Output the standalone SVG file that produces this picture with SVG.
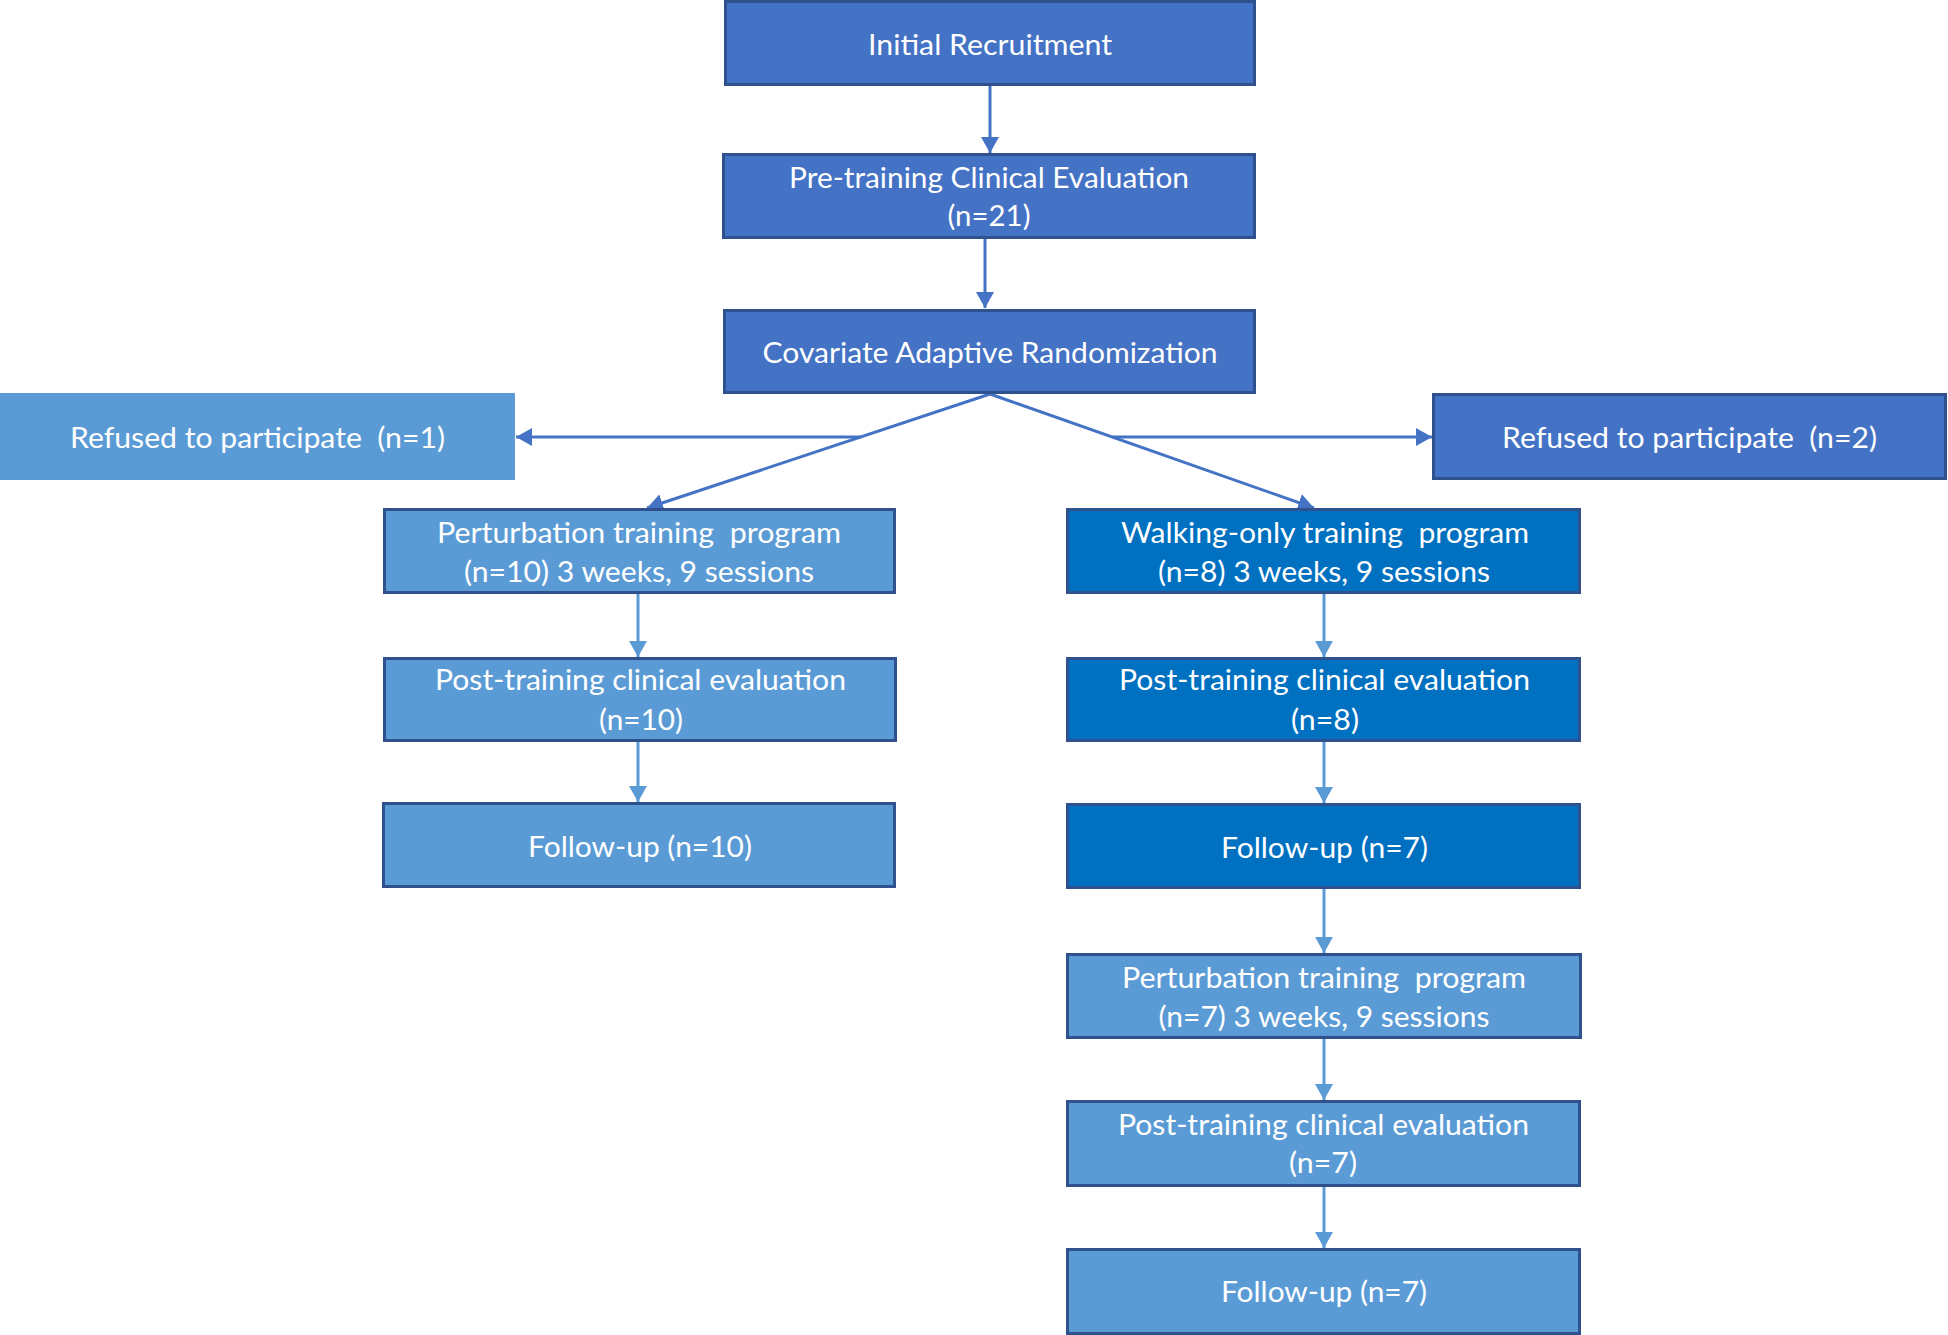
<svg xmlns="http://www.w3.org/2000/svg" width="1948" height="1335" viewBox="0 0 1948 1335">
<style>
.dark{fill:#4472C4;stroke:#2F528F;stroke-width:3}
.light{fill:#5B9BD5;stroke:#2F528F;stroke-width:3}
.deep{fill:#0070C0;stroke:#2F528F;stroke-width:3}
.plain{fill:#5B9BD5}
text{font-family:Lato,"Open Sans","Liberation Sans",sans-serif;font-size:29px;fill:#FFFFFF;text-anchor:middle;white-space:pre}
.c1{stroke:#4472C4;stroke-width:3;fill:none;marker-end:url(#a1)}
.c2{stroke:#5B9BD5;stroke-width:3;fill:none;marker-end:url(#a2)}
</style>
<defs>
<marker id="a1" markerUnits="userSpaceOnUse" markerWidth="16" markerHeight="18" refX="16" refY="9" orient="auto"><path d="M0,0 L16,9 L0,18 z" fill="#4472C4"/></marker>
<marker id="a2" markerUnits="userSpaceOnUse" markerWidth="16" markerHeight="18" refX="16" refY="9" orient="auto"><path d="M0,0 L16,9 L0,18 z" fill="#5B9BD5"/></marker>
</defs>
<rect width="1948" height="1335" fill="#FFFFFF"/>
<g id="connectors">
<line class="c1" x1="990" y1="86" x2="990" y2="153"/>
<line class="c1" x1="985" y1="239" x2="985" y2="308"/>
<line class="c1" x1="990" y1="394" x2="647" y2="508"/>
<line class="c1" x1="990" y1="394" x2="1314" y2="508"/>
<line class="c1" x1="861" y1="437" x2="516" y2="437"/>
<line class="c1" x1="1112" y1="437" x2="1432" y2="437"/>
<line class="c2" x1="638" y1="594" x2="638" y2="657"/>
<line class="c2" x1="638" y1="742" x2="638" y2="802"/>
<line class="c2" x1="1324" y1="594" x2="1324" y2="657"/>
<line class="c2" x1="1324" y1="742" x2="1324" y2="803"/>
<line class="c2" x1="1324" y1="889" x2="1324" y2="953"/>
<line class="c2" x1="1324" y1="1039" x2="1324" y2="1100"/>
<line class="c2" x1="1324" y1="1187" x2="1324" y2="1248"/>
</g>
<g id="initial-recruitment">
<rect class="dark" x="725.5" y="1.5" width="529" height="83"/>
<text x="990" y="55" textLength="244" lengthAdjust="spacingAndGlyphs">Initial Recruitment</text>
</g>
<g id="pre-training">
<rect class="dark" x="723.5" y="154.5" width="531" height="83"/>
<text x="989" y="188" textLength="400" lengthAdjust="spacingAndGlyphs">Pre-training Clinical Evaluation</text>
<text x="989" y="226" textLength="83" lengthAdjust="spacingAndGlyphs">(n=21)</text>
</g>
<g id="randomization">
<rect class="dark" x="724.5" y="310.5" width="530" height="82"/>
<text x="990" y="363" textLength="455" lengthAdjust="spacingAndGlyphs">Covariate Adaptive Randomization</text>
</g>
<g id="refused-left">
<rect class="plain" x="0" y="393" width="515" height="87"/>
<text x="257.5" y="448" textLength="375" lengthAdjust="spacingAndGlyphs">Refused to participate  (n=1)</text>
</g>
<g id="refused-right">
<rect class="dark" x="1433.5" y="394.5" width="512" height="84"/>
<text x="1689.5" y="448" textLength="375" lengthAdjust="spacingAndGlyphs">Refused to participate  (n=2)</text>
</g>
<g id="perturbation-left">
<rect class="light" x="384.5" y="509.5" width="510" height="83"/>
<text x="639" y="543" textLength="404" lengthAdjust="spacingAndGlyphs">Perturbation training  program</text>
<text x="639" y="582" textLength="350" lengthAdjust="spacingAndGlyphs">(n=10) 3 weeks, 9 sessions</text>
</g>
<g id="walking-only">
<rect class="deep" x="1067.5" y="509.5" width="512" height="83"/>
<text x="1325" y="543" textLength="408" lengthAdjust="spacingAndGlyphs">Walking-only training  program</text>
<text x="1324" y="582" textLength="332" lengthAdjust="spacingAndGlyphs">(n=8) 3 weeks, 9 sessions</text>
</g>
<g id="post-left">
<rect class="light" x="384.5" y="658.5" width="511" height="82"/>
<text x="640.5" y="690" textLength="411" lengthAdjust="spacingAndGlyphs">Post-training clinical evaluation</text>
<text x="641" y="730" textLength="84" lengthAdjust="spacingAndGlyphs">(n=10)</text>
</g>
<g id="post-right">
<rect class="deep" x="1067.5" y="658.5" width="512" height="82"/>
<text x="1324.5" y="690" textLength="411" lengthAdjust="spacingAndGlyphs">Post-training clinical evaluation</text>
<text x="1325" y="730" textLength="68" lengthAdjust="spacingAndGlyphs">(n=8)</text>
</g>
<g id="followup-left">
<rect class="light" x="383.5" y="803.5" width="511" height="83"/>
<text x="640" y="857" textLength="224" lengthAdjust="spacingAndGlyphs">Follow-up (n=10)</text>
</g>
<g id="followup-right">
<rect class="deep" x="1067.5" y="804.5" width="512" height="83"/>
<text x="1324.5" y="858" textLength="207" lengthAdjust="spacingAndGlyphs">Follow-up (n=7)</text>
</g>
<g id="perturbation-right">
<rect class="light" x="1067.5" y="954.5" width="513" height="83"/>
<text x="1324" y="988" textLength="404" lengthAdjust="spacingAndGlyphs">Perturbation training  program</text>
<text x="1324" y="1027" textLength="331" lengthAdjust="spacingAndGlyphs">(n=7) 3 weeks, 9 sessions</text>
</g>
<g id="post-right-2">
<rect class="light" x="1067.5" y="1101.5" width="512" height="84"/>
<text x="1323.5" y="1135" textLength="411" lengthAdjust="spacingAndGlyphs">Post-training clinical evaluation</text>
<text x="1323" y="1173" textLength="68" lengthAdjust="spacingAndGlyphs">(n=7)</text>
</g>
<g id="followup-right-2">
<rect class="light" x="1067.5" y="1249.5" width="512" height="84"/>
<text x="1324" y="1302" textLength="206" lengthAdjust="spacingAndGlyphs">Follow-up (n=7)</text>
</g>
</svg>
